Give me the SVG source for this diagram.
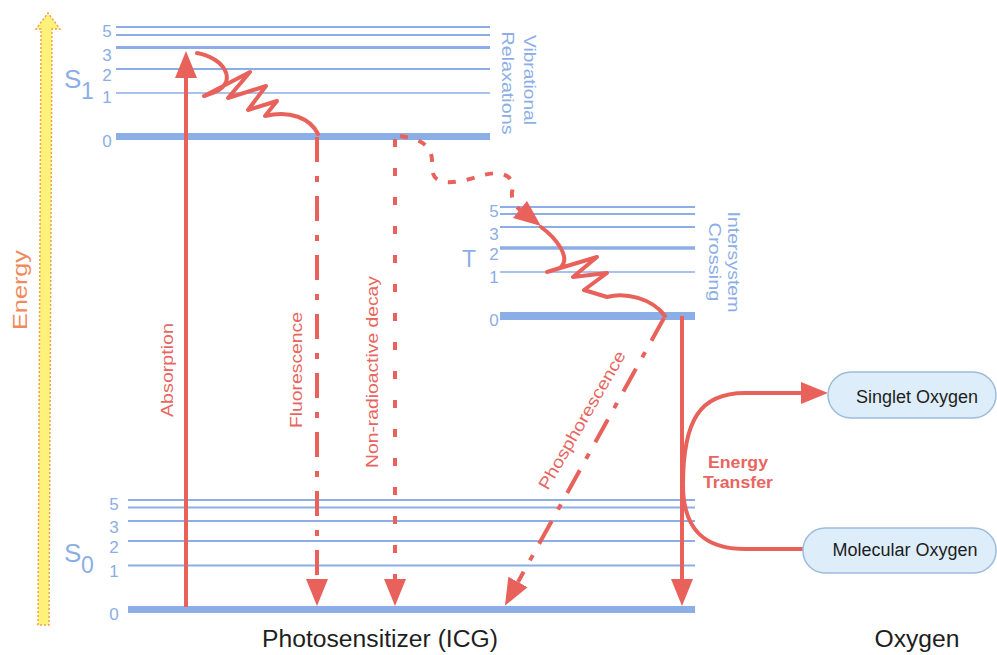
<svg xmlns="http://www.w3.org/2000/svg" width="997" height="655" viewBox="0 0 997 655">
<defs>
<marker id="ah" markerUnits="userSpaceOnUse" markerWidth="28" markerHeight="24" viewBox="0 -12 28 24" refX="0" refY="0" orient="auto"><path d="M0,-11 L27,0 L0,11 z" fill="#E8625B"/></marker>
</defs>
<style>
.lvl line{stroke:#8CAEE6;fill:none}
.num{font-family:"Liberation Sans",Arial,sans-serif;font-size:17px;fill:#8CAEE6;text-anchor:middle}
.st{font-family:"Liberation Sans",Arial,sans-serif;fill:#8CAEE6}
.rl{font-family:"Liberation Sans",Arial,sans-serif;font-size:17px;fill:#E8665F;text-anchor:middle}
.bl{font-family:"Liberation Sans",Arial,sans-serif;font-size:17px;fill:#8CAEE6;text-anchor:middle}
.arr{stroke:#E8625B;fill:none;stroke-width:4}
.node rect{fill:#DDEEFA;stroke:#9DBCDB;stroke-width:1.5}
.node text{font-family:"Liberation Sans",Arial,sans-serif;font-size:18px;fill:#1e1e1e;text-anchor:middle}
.cap{font-family:"Liberation Sans",Arial,sans-serif;font-size:23px;fill:#1e1e1e;text-anchor:middle}
</style>
<rect width="997" height="655" fill="#ffffff"/>

<g id="energy-axis">
<polygon points="38,625 41,29 36,29 48,13 60,29 52,29 49,625" fill="#FFF27A" stroke="#F0A050" stroke-width="1.5" stroke-dasharray="2 2"/>
<text transform="translate(27,290) rotate(-90)" font-family="Liberation Sans, Arial, sans-serif" font-size="21" fill="#F08A5B" text-anchor="middle" textLength="80" lengthAdjust="spacingAndGlyphs">Energy</text>
</g>

<g id="S1" class="lvl">
<line x1="116" y1="27" x2="490" y2="27" stroke-width="2"/>
<line x1="116" y1="35" x2="490" y2="35" stroke-width="2"/>
<line x1="116" y1="47.5" x2="490" y2="47.5" stroke-width="3"/>
<line x1="116" y1="69" x2="490" y2="69" stroke-width="2"/>
<line x1="116" y1="93" x2="490" y2="93" stroke-width="1.5"/>
<line x1="116" y1="136.5" x2="490" y2="136.5" stroke-width="7"/>
<text class="num" x="107" y="37">5</text>
<text class="num" x="107" y="61">3</text>
<text class="num" x="107" y="81">2</text>
<text class="num" x="107" y="103">1</text>
<text class="num" x="107" y="147">0</text>
<text class="st" x="64" y="88" font-size="26">S</text>
<text class="st" x="81" y="99" font-size="23">1</text>
<text class="bl" transform="translate(524,80) rotate(90)" textLength="90" lengthAdjust="spacingAndGlyphs">Vibrational</text>
<text class="bl" transform="translate(524,80) rotate(90)" x="3" y="22" textLength="103" lengthAdjust="spacingAndGlyphs">Relaxations</text>
</g>

<g id="T" class="lvl">
<line x1="500" y1="207" x2="695" y2="207" stroke-width="2"/>
<line x1="500" y1="214" x2="695" y2="214" stroke-width="2"/>
<line x1="500" y1="227" x2="695" y2="227" stroke-width="2"/>
<line x1="500" y1="248" x2="695" y2="248" stroke-width="3.5"/>
<line x1="500" y1="272" x2="695" y2="272" stroke-width="1.5"/>
<line x1="500" y1="316" x2="695" y2="316" stroke-width="8"/>
<text class="num" x="494" y="217">5</text>
<text class="num" x="494" y="240">3</text>
<text class="num" x="494" y="260">2</text>
<text class="num" x="494" y="283">1</text>
<text class="num" x="494" y="326">0</text>
<text class="st" x="462" y="267" font-size="23">T</text>
<text class="bl" transform="translate(728,262) rotate(90)" textLength="101" lengthAdjust="spacingAndGlyphs">Intersystem</text>
<text class="bl" transform="translate(728,262) rotate(90)" y="19" textLength="79" lengthAdjust="spacingAndGlyphs">Crossing</text>
</g>

<g id="S0" class="lvl">
<line x1="128" y1="500" x2="695" y2="500" stroke-width="1.8"/>
<line x1="128" y1="507.5" x2="695" y2="507.5" stroke-width="1.8"/>
<line x1="128" y1="521" x2="695" y2="521" stroke-width="1.8"/>
<line x1="128" y1="541" x2="695" y2="541" stroke-width="1.8"/>
<line x1="128" y1="565.5" x2="695" y2="565.5" stroke-width="1.8"/>
<line x1="128" y1="609.5" x2="695" y2="609.5" stroke-width="7"/>
<text class="num" x="114" y="510">5</text>
<text class="num" x="114" y="533">3</text>
<text class="num" x="114" y="553">2</text>
<text class="num" x="114" y="577">1</text>
<text class="num" x="114" y="620">0</text>
<text class="st" x="64" y="562" font-size="26">S</text>
<text class="st" x="81" y="573" font-size="23">0</text>
</g>

<g id="connectors">
<line class="arr" x1="186" y1="607" x2="186" y2="78" marker-end="url(#ah)"/>
<path class="arr" d="M317,137 L317,579" stroke-dasharray="25 14 6 14" marker-end="url(#ah)"/>
<path class="arr" d="M395,139 L395,579" stroke-width="5" stroke-dasharray="8 21" marker-end="url(#ah)"/>
<path class="arr" d="M664,318 L518,582" stroke-dasharray="26 13 6 13" marker-end="url(#ah)"/>
<path class="arr" d="M682,316 L682,579" stroke-width="3.5" marker-end="url(#ah)"/>
<path class="arr" d="M683,485 C683,420 700,393 745,393 L801,393" stroke-width="4.5" marker-end="url(#ah)"/>
<path class="arr" d="M803,549 L745,549 C705,549 683,530 683,485" stroke-width="4.5"/>
<path class="arr" stroke-linejoin="round" stroke-linecap="round" d="M197,53 C225,58 238,82 215,92 L204,96 L250,72 L228,98 L266,86 L248,110 L277,101 L265,116 C290,110 310,118 318,134"/>
<path class="arr" stroke-linejoin="round" stroke-linecap="round" d="M541,227 C556,238 572,258 560,268 L547,272 L597,257 L573,277 L607,273 L584,290 L607,297 C625,292 652,298 665,316"/>
<path class="arr" stroke-width="5" stroke-dasharray="8 11" d="M400,136 C428,140 433,150 432,166 C431,190 460,182 480,176 C502,169 516,176 512,192 Q511,202 520,210"/>
<polygon points="541,226 513,218 527,201" fill="#E8625B"/>
</g>

<g id="labels">
<text class="rl" transform="translate(173,370) rotate(-90)" textLength="94" lengthAdjust="spacingAndGlyphs">Absorption</text>
<text class="rl" transform="translate(302,370) rotate(-90)" textLength="116" lengthAdjust="spacingAndGlyphs">Fluorescence</text>
<text class="rl" transform="translate(378,372) rotate(-90)" textLength="192" lengthAdjust="spacingAndGlyphs">Non-radioactive decay</text>
<text class="rl" transform="translate(587,423) rotate(-60)" textLength="157" lengthAdjust="spacingAndGlyphs">Phosphorescence</text>
<text class="rl" x="738" y="468" font-weight="bold" textLength="60" lengthAdjust="spacingAndGlyphs">Energy</text>
<text class="rl" x="738" y="488" font-weight="bold" textLength="70" lengthAdjust="spacingAndGlyphs">Transfer</text>
<text class="cap" x="380" y="647" textLength="236" lengthAdjust="spacingAndGlyphs">Photosensitizer (ICG)</text>
<text class="cap" x="917" y="647" textLength="85" lengthAdjust="spacingAndGlyphs">Oxygen</text>
</g>

<g id="singlet-oxygen" class="node">
<rect x="828" y="372" width="168" height="46" rx="23"/>
<text x="917" y="403">Singlet Oxygen</text>
</g>
<g id="molecular-oxygen" class="node">
<rect x="803" y="528" width="193" height="45" rx="22"/>
<text x="905" y="556">Molecular Oxygen</text>
</g>
</svg>
